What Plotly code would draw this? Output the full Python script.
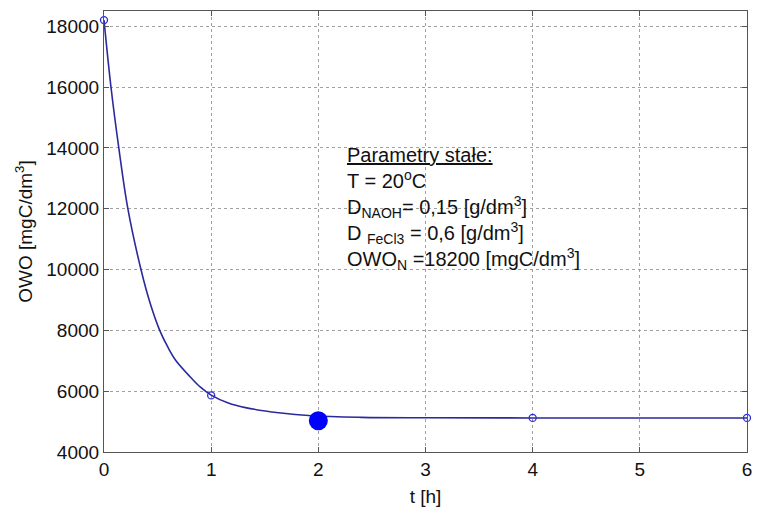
import plotly.graph_objects as go

# Measured points (hollow circles)
t_meas = [0, 1, 4, 6]
owo_meas = [18200, 5860, 5120, 5120]

# Highlighted point (filled)
t_hl = [2]
owo_hl = [5030]

# Fitted curve
t_fit = [0, 0.065, 0.14, 0.22, 0.345, 0.43, 0.52, 0.6, 0.672, 0.81, 0.9, 1.0, 1.16, 1.32,
         1.63, 1.94, 2.4, 3, 4, 5, 6]
owo_fit = [18200, 16000, 13950, 12050, 10000, 8900, 8000, 7420, 7000, 6450, 6130, 5870,
           5610, 5460, 5290, 5190, 5140, 5125, 5120, 5120, 5120]

x_ticks = [0, 1, 2, 3, 4, 5, 6]
y_ticks = [4000, 6000, 8000, 10000, 12000, 14000, 16000, 18000]

font = "Liberation Sans, Arial, sans-serif"
line_col = "#2a2a9c"
fs = 19

fig = go.Figure()
fig.add_trace(go.Scatter(x=t_fit, y=owo_fit, mode="lines",
                         line=dict(color=line_col, width=1.6, shape="spline", smoothing=1.0),
                         showlegend=False, hoverinfo="skip"))
fig.add_trace(go.Scatter(x=t_meas, y=owo_meas, mode="markers",
                         marker=dict(symbol="circle-open", size=7, color="#2b2bd0",
                                     line=dict(width=1.3)),
                         showlegend=False, cliponaxis=False))
fig.add_trace(go.Scatter(x=t_hl, y=owo_hl, mode="markers",
                         marker=dict(symbol="circle", size=19, color="#0000ff"),
                         showlegend=False))

axis_common = dict(showgrid=True, gridcolor="#a0a0a0", griddash="dot", gridwidth=1,
                   showline=True, linecolor="#555555", linewidth=1.2, mirror="ticks",
                   ticks="inside", ticklen=5, tickcolor="#555555", zeroline=False,
                   tickfont=dict(family=font, size=fs, color="#111111"))

fig.update_xaxes(range=[0, 6], tickvals=x_ticks, ticktext=[str(v) for v in x_ticks],
                 title=dict(text="t [h]", font=dict(family=font, size=fs, color="#111111"),
                            standoff=10),
                 **axis_common)
fig.update_yaxes(range=[4000, 18500], tickvals=y_ticks, ticktext=[str(v) for v in y_ticks],
                 title=dict(text="OWO [mgC/dm<sup>3</sup>]",
                            font=dict(family=font, size=fs, color="#111111"), standoff=8),
                 **axis_common)

text = ("<u>Parametry stałe:</u><br>"
        "T = 20<sup>o</sup>C<br>"
        "D<sub>NAOH</sub>= 0,15 [g/dm<sup>3</sup>]<br>"
        "D <sub>FeCl3</sub> = 0,6 [g/dm<sup>3</sup>]<br>"
        "OWO<sub>N</sub> =18200 [mgC/dm<sup>3</sup>]")
fig.add_annotation(x=2.25, y=14200, xref="x", yref="y", text=text, showarrow=False,
                   xanchor="left", yanchor="top", align="left",
                   font=dict(family=font, size=20, color="#111111"))

fig.update_layout(width=758, height=514, margin=dict(l=104, r=6, t=11, b=62),
                  paper_bgcolor="white", plot_bgcolor="white")

fig.write_html("out.html")
